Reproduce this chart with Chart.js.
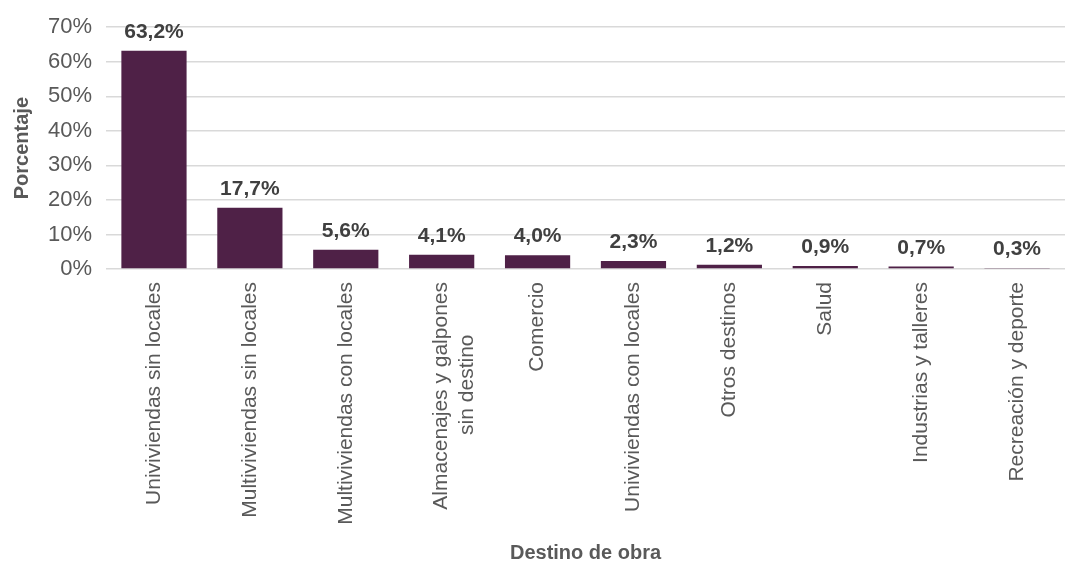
<!DOCTYPE html>
<html>
<head>
<meta charset="utf-8">
<script src="https://cdn.jsdelivr.net/npm/chart.js@4/dist/chart.umd.min.js"></script>
<style>
  html, body { margin: 0; padding: 0; background: #fff; }
  #wrap { width: 1067px; height: 565px; position: relative; }
</style>
</head>
<body>
<div id="wrap"><canvas id="chart"></canvas></div>
<script>
const categories = [
  'Univiviendas sin locales',
  'Multiviviendas sin locales',
  'Multiviviendas con locales',
  ['Almacenajes y galpones', 'sin destino         '],
  'Comercio',
  'Univiviendas con locales',
  'Otros destinos',
  'Salud',
  'Industrias y talleres',
  'Recreación y deporte'
];
const porcentajes = [63.2, 17.7, 5.6, 4.1, 4.0, 2.3, 1.2, 0.9, 0.7, 0.3];
const yTicks = [0, 10, 20, 30, 40, 50, 60, 70];

const FONT = "'Liberation Sans', Arial, sans-serif";

// etiquetas de valor encima de cada barra
const valueLabels = {
  id: 'valueLabels',
  afterDatasetsDraw(chart) {
    const ctx = chart.ctx;
    const meta = chart.getDatasetMeta(0);
    ctx.save();
    ctx.font = 'bold 21px ' + FONT;
    ctx.fillStyle = '#404040';
    ctx.textAlign = 'center';
    ctx.textBaseline = 'bottom';
    meta.data.forEach((bar, i) => {
      const txt = porcentajes[i].toFixed(1).replace('.', ',') + '%';
      ctx.fillText(txt, bar.x, bar.y - 8);
    });
    ctx.restore();
  }
};

new Chart(document.getElementById('chart').getContext('2d'), {
  type: 'bar',
  data: {
    labels: categories,
    datasets: [{
      label: 'Porcentaje',
      data: porcentajes,
      backgroundColor: '#4f2147',
      categoryPercentage: 0.68,
      barPercentage: 1.0
    }]
  },
  options: {
    responsive: true,
    maintainAspectRatio: false,
    animation: false,
    layout: { padding: { top: 1, right: 2, left: 0, bottom: 0 } },
    plugins: {
      legend: { display: false },
      tooltip: { enabled: false }
    },
    scales: {
      x: {
        // the layout caps the axis at half the height; the labels need more room
        afterFit(axis) { axis.height = 296; },
        grid: { display: false },
        border: { display: false },
        ticks: {
          minRotation: 90,
          maxRotation: 90,
          autoSkip: false,
          padding: 5,
          color: '#595959',
          font: { family: FONT, size: 21 }
        },
        title: {
          display: true,
          text: 'Destino de obra',
          color: '#595959',
          font: { family: FONT, size: 20, weight: 'bold' },
          padding: { top: 36, bottom: 0 }
        }
      },
      y: {
        min: 0,
        max: 70,
        afterBuildTicks(axis) { axis.ticks = yTicks.map(v => ({ value: v })); },
        grid: { color: '#d9d9d9', lineWidth: 1.5, drawTicks: false },
        border: { display: false },
        ticks: {
          padding: 14,
          color: '#595959',
          font: { family: FONT, size: 22 },
          callback: v => v + '%'
        },
        title: {
          display: true,
          text: 'Porcentaje',
          color: '#595959',
          font: { family: FONT, size: 20, weight: 'bold' },
          padding: { top: 10, bottom: 0 }
        }
      }
    }
  },
  plugins: [valueLabels]
});
</script>
</body>
</html>
